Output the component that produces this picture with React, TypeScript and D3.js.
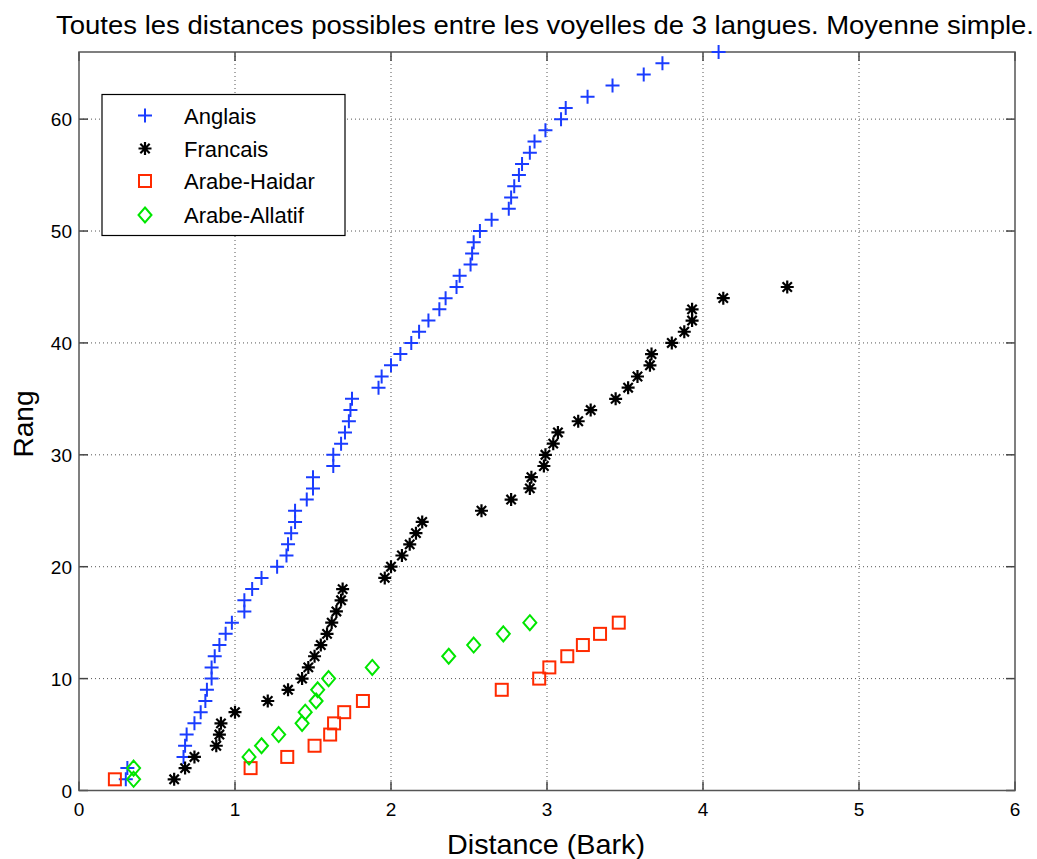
import * as d3 from 'd3';

// distances (Bark) sorted, rank = position + 1
const anglais = [
  0.30, 0.31, 0.67, 0.68, 0.69, 0.74, 0.78, 0.81, 0.82, 0.85, 0.85, 0.87, 0.90, 0.94, 0.98,
  1.06, 1.06, 1.11, 1.17, 1.27, 1.33, 1.34, 1.36, 1.385, 1.385, 1.46, 1.50, 1.50, 1.63, 1.63,
  1.68, 1.705, 1.73, 1.74, 1.75, 1.92, 1.94, 2.00, 2.06, 2.13, 2.18, 2.24, 2.31, 2.35, 2.42,
  2.44, 2.51, 2.52, 2.53, 2.57, 2.645, 2.755, 2.77, 2.79, 2.82, 2.84, 2.89, 2.92, 2.99, 3.09,
  3.12, 3.26, 3.42, 3.62, 3.74, 4.10,
];
const francais = [
  0.61, 0.68, 0.74, 0.88, 0.90, 0.91, 1.00, 1.21, 1.34, 1.43, 1.47, 1.51, 1.55, 1.59, 1.62,
  1.65, 1.68, 1.69, 1.96, 2.00, 2.07, 2.12, 2.16, 2.20, 2.58, 2.77, 2.89, 2.90, 2.98, 2.99,
  3.04, 3.07, 3.20, 3.28, 3.44, 3.52, 3.58, 3.66, 3.67, 3.80, 3.88, 3.93, 3.93, 4.13, 4.54,
];
const haidar = [0.23, 1.10, 1.335, 1.51, 1.61, 1.635, 1.70, 1.82, 2.71, 2.95, 3.015, 3.13, 3.23, 3.34, 3.46];
const allatif = [0.35, 0.35, 1.09, 1.17, 1.28, 1.43, 1.45, 1.52, 1.53, 1.60, 1.88, 2.37, 2.53, 2.72, 2.89];

const seriesNames = ['Anglais', 'Francais', 'Arabe-Haidar', 'Arabe-Allatif'];
const xTicks = [0, 1, 2, 3, 4, 5, 6];
const yTicks = [0, 10, 20, 30, 40, 50, 60];

const W = 1037;
const H = 859;
const m = { left: 79, right: 1015, top: 52, bottom: 790.5 };
const font = 'Liberation Sans, Arial, Helvetica, sans-serif';

const colors = ['#1a3cff', '#000000', '#ff2a00', '#00e600'];

function Marker({ kind, x, y }: { kind: number; x: number; y: number }) {
  const c = colors[kind];
  if (kind === 0) {
    return <path d={`M${x - 7},${y}H${x + 7}M${x},${y - 7}V${y + 7}`} stroke={c} strokeWidth={2} fill="none" />;
  }
  if (kind === 1) {
    const r = 6.5;
    const d = r * 0.72;
    return (
      <path
        d={`M${x - r},${y}H${x + r}M${x},${y - r}V${y + r}M${x - d},${y - d}L${x + d},${y + d}M${x - d},${y + d}L${x + d},${y - d}`}
        stroke={c}
        strokeWidth={2.2}
        fill="none"
      />
    );
  }
  if (kind === 2) {
    return <rect x={x - 6} y={y - 6} width={12} height={12} stroke={c} strokeWidth={2} fill="none" />;
  }
  return <path d={`M${x},${y - 7.5}L${x + 6.5},${y}L${x},${y + 7.5}L${x - 6.5},${y}Z`} stroke={c} strokeWidth={2} fill="none" />;
}

export default function App() {
  const x = d3.scaleLinear().domain([0, 6]).range([m.left, m.right]);
  const y = d3.scaleLinear().domain([0, 66]).range([m.bottom, m.top]);
  const all = [anglais, francais, haidar, allatif];

  return (
    <svg width={W} height={H} style={{ position: 'absolute', left: 0, top: 0, background: '#fff' }} fontFamily={font}>
      <text x={545} y={34} fontSize={25} textAnchor="middle" textLength={978} lengthAdjust="spacingAndGlyphs">
        Toutes les distances possibles entre les voyelles de 3 langues. Moyenne simple.
      </text>

      {/* grid */}
      <g stroke="#555" strokeWidth={1} strokeDasharray="1,3">
        {xTicks.slice(1, -1).map((t) => (
          <line key={'gx' + t} x1={x(t)} x2={x(t)} y1={m.top} y2={m.bottom} />
        ))}
        {yTicks.slice(1).map((t) => (
          <line key={'gy' + t} x1={m.left} x2={m.right} y1={y(t)} y2={y(t)} />
        ))}
      </g>

      {/* ticks, inward on all four sides */}
      <g stroke="#444" strokeWidth={1.5}>
        {xTicks.map((t) => (
          <g key={'tx' + t}>
            <line x1={x(t)} x2={x(t)} y1={m.bottom} y2={m.bottom - 9} />
            <line x1={x(t)} x2={x(t)} y1={m.top} y2={m.top + 9} />
          </g>
        ))}
        {yTicks.map((t) => (
          <g key={'ty' + t}>
            <line x1={m.left} x2={m.left + 9} y1={y(t)} y2={y(t)} />
            <line x1={m.right} x2={m.right - 9} y1={y(t)} y2={y(t)} />
          </g>
        ))}
      </g>
      <rect x={m.left} y={m.top} width={m.right - m.left} height={m.bottom - m.top} fill="none" stroke="#555" strokeWidth={1.5} />

      <g fontSize={19} fill="#000">
        {xTicks.map((t) => (
          <text key={'lx' + t} x={x(t)} y={m.bottom + 25} textAnchor="middle">{t}</text>
        ))}
        {yTicks.map((t) => (
          <text key={'ly' + t} x={m.left - 7} y={y(t) + 7} textAnchor="end">{t}</text>
        ))}
      </g>

      <text x={546} y={854} fontSize={28} textAnchor="middle" textLength={198} lengthAdjust="spacingAndGlyphs">Distance (Bark)</text>
      <text transform={`translate(33,424) rotate(-90)`} fontSize={28} textAnchor="middle">Rang</text>

      {/* points */}
      {all.map((vals, k) => (
        <g key={'s' + k}>
          {vals.map((v, i) => (
            <Marker key={i} kind={k} x={x(v)} y={y(i + 1)} />
          ))}
        </g>
      ))}

      {/* legend */}
      <rect x={102} y={94.5} width={243} height={141} fill="#fff" stroke="#000" strokeWidth={1.2} />
      {seriesNames.map((n, k) => {
        const ly = [115.5, 148.5, 181, 215][k];
        return (
          <g key={'lg' + k}>
            <Marker kind={k} x={145} y={ly} />
            <text x={184} y={ly + 8} fontSize={22}>{n}</text>
          </g>
        );
      })}
    </svg>
  );
}
